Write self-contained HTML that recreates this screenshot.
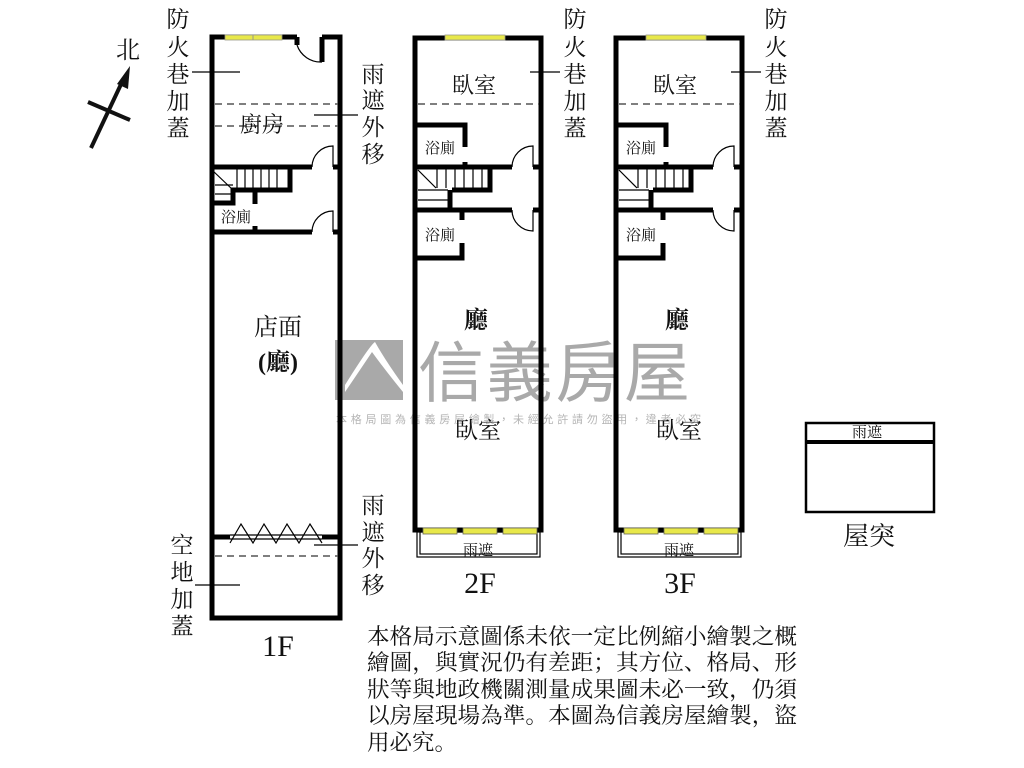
<!DOCTYPE html>
<html><head><meta charset="utf-8"><style>
body{margin:0;background:#fff}
svg{display:block}
text{font-family:"Liberation Serif","Noto Serif CJK SC",serif;fill:#111}
</style></head><body>
<svg width="1024" height="768" viewBox="0 0 1024 768" xmlns="http://www.w3.org/2000/svg">
<!-- watermark -->
<g fill="#a9a9a9">
<rect x="335" y="340" width="68" height="60"/>
<path d="M345 385 Q370 345 375 342 Q385 360 403 385 L403 392 Q385 370 372 352 Q360 370 345 392Z" fill="#fff"/>
<text x="418" y="396" font-size="66" style="font-family:'Noto Sans CJK TC',sans-serif;fill:#a9a9a9" textLength="272">信義房屋</text>
<text x="336" y="423" font-size="11" style="font-family:'Noto Sans CJK TC',sans-serif;fill:#b5b5b5" textLength="365">本格局圖為信義房屋繪製，未經允許請勿盜用，違者必究</text>
</g>
<!-- north arrow -->
<g stroke="#111" stroke-width="4" fill="none">
<line x1="91" y1="148" x2="123" y2="80"/>
<line x1="88" y1="102" x2="130" y2="120"/>
</g>
<polygon points="130,66 117,84 128,89" fill="#111"/>
<text x="128" y="58" font-size="24" text-anchor="middle">北</text>

<!-- 1F -->
<g fill="none" stroke="#000" stroke-width="5">
<polyline points="297,37 212,37 212,618 340,618 340,37 322,37"/>
<line x1="297" y1="37" x2="297" y2="45"/><line x1="322" y1="37" x2="322" y2="62"/>
<polyline points="212,167 312,167"/><line x1="333" y1="167" x2="340" y2="167"/>
<polyline points="212,232 312,232"/><line x1="333" y1="232" x2="340" y2="232"/>
<polyline points="290,167 290,190 233,190 233,203 212,203"/>
<line x1="255" y1="190" x2="255" y2="204"/><line x1="255" y1="226" x2="255" y2="232"/>
<line x1="212" y1="537" x2="230" y2="537"/><line x1="322" y1="537" x2="340" y2="537"/>
</g>
<g stroke="#000" stroke-width="1.2" fill="none">
<path d="M297 45 A25 25 0 0 0 322 62"/>
<path d="M312 167 A21 21 0 0 1 333 146 L333 167"/>
<path d="M312 232 A21 21 0 0 1 333 211 L333 232"/>
<line x1="212" y1="170" x2="233" y2="190"/>
<line x1="215" y1="185" x2="233" y2="185"/>
<line x1="215" y1="194" x2="233" y2="194"/>
<line x1="237" y1="169" x2="237" y2="188"/><line x1="245" y1="169" x2="245" y2="188"/><line x1="253" y1="169" x2="253" y2="188"/><line x1="261" y1="169" x2="261" y2="188"/><line x1="269" y1="169" x2="269" y2="188"/><line x1="277" y1="169" x2="277" y2="188"/>
<line x1="230" y1="535" x2="322" y2="535"/><line x1="230" y1="539" x2="322" y2="539"/>
<polyline points="230,543 241,524 253,543 264,524 276,543 287,524 299,543 310,524 322,543"/>
<line x1="192" y1="72" x2="240" y2="72"/>
<line x1="314" y1="115" x2="358" y2="115"/>
<line x1="314" y1="545" x2="358" y2="545"/>
<line x1="195" y1="585" x2="240" y2="585"/>
</g>
<g stroke="#555" stroke-width="1.5" stroke-dasharray="7,5">
<line x1="215" y1="104" x2="338" y2="104"/><line x1="215" y1="126" x2="338" y2="126"/>
<line x1="215" y1="556" x2="338" y2="556"/>
</g>
<rect x="225" y="35" width="57" height="5" fill="#e8e84a" stroke="#998" stroke-width="0.8"/>
<line x1="253" y1="35" x2="253" y2="40" stroke="#998"/>
<text x="262" y="132" font-size="22" text-anchor="middle">廚房</text>
<text x="236" y="222" font-size="15" text-anchor="middle">浴廁</text>
<text x="278" y="335" font-size="24" text-anchor="middle">店面</text>
<text x="278" y="370" font-size="24" text-anchor="middle" font-weight="bold">(廳)</text>
<text x="278" y="656" font-size="30" text-anchor="middle">1F</text>
<g font-size="23" text-anchor="middle">
<text x="178" y="27">防</text><text x="178" y="55">火</text><text x="178" y="82">巷</text><text x="178" y="109">加</text><text x="178" y="136">蓋</text>
<text x="373" y="82">雨</text><text x="373" y="108">遮</text><text x="373" y="135">外</text><text x="373" y="162">移</text>
<text x="373" y="513">雨</text><text x="373" y="540">遮</text><text x="373" y="566">外</text><text x="373" y="593">移</text>
<text x="182" y="553">空</text><text x="182" y="580">地</text><text x="182" y="607">加</text><text x="182" y="634">蓋</text>
<text x="575" y="27">防</text><text x="575" y="55">火</text><text x="575" y="82">巷</text><text x="575" y="109">加</text><text x="575" y="136">蓋</text>
<text x="776" y="27">防</text><text x="776" y="55">火</text><text x="776" y="82">巷</text><text x="776" y="109">加</text><text x="776" y="136">蓋</text>
</g>

<!-- 2F & 3F -->
<g id="fl">
<g fill="none" stroke="#000" stroke-width="5">
<rect x="415" y="38" width="126" height="492"/>
<polyline points="413,125 465,125 465,147"/><line x1="465" y1="162" x2="465" y2="167"/>
<line x1="413" y1="167" x2="512" y2="167"/><line x1="533" y1="167" x2="542" y2="167"/>
<polyline points="490,167 490,190 452,190"/>
<polyline points="450,190 450,210"/>
<line x1="413" y1="210" x2="512" y2="210"/><line x1="533" y1="210" x2="542" y2="210"/>
<polyline points="462,210 462,220"/><polyline points="462,243 462,258 413,258"/>
</g>
<g stroke="#000" stroke-width="1.2" fill="none">
<path d="M512 167 A21 21 0 0 1 533 146 L533 167"/>
<path d="M512 210 A21 21 0 0 0 533 231 L533 210"/>
<line x1="418" y1="170" x2="436" y2="188"/>
<line x1="418" y1="190" x2="448" y2="190"/><line x1="418" y1="200" x2="448" y2="200"/>
<line x1="437" y1="169" x2="437" y2="188"/><line x1="446" y1="169" x2="446" y2="188"/><line x1="455" y1="169" x2="455" y2="188"/><line x1="464" y1="169" x2="464" y2="188"/><line x1="473" y1="169" x2="473" y2="188"/><line x1="482" y1="169" x2="482" y2="188"/>
<rect x="417" y="532" width="123" height="25"/><rect x="420" y="532" width="117" height="22"/>
<line x1="530" y1="72" x2="560" y2="72"/>
</g>
<line x1="418" y1="104" x2="539" y2="104" stroke="#555" stroke-width="1.5" stroke-dasharray="7,5"/>
<rect x="445" y="35" width="60" height="5" fill="#e8e84a" stroke="#998" stroke-width="0.8"/>
<g fill="#e8e84a" stroke="#665" stroke-width="0.8">
<rect x="423" y="528" width="34" height="6"/><rect x="463" y="528" width="34" height="6"/><rect x="503" y="528" width="34" height="6"/>
</g>
<text x="474" y="93" font-size="22" text-anchor="middle">臥室</text>
<text x="440" y="153" font-size="15" text-anchor="middle">浴廁</text>
<text x="440" y="240" font-size="15" text-anchor="middle">浴廁</text>
<text x="476" y="328" font-size="24" text-anchor="middle" font-weight="bold">廳</text>
<text x="478" y="438" font-size="23" text-anchor="middle">臥室</text>
<text x="478" y="555" font-size="15" text-anchor="middle">雨遮</text>
</g>
<use href="#fl" x="201"/>
<text x="480" y="593" font-size="30" text-anchor="middle">2F</text>
<text x="680" y="593" font-size="30" text-anchor="middle">3F</text>

<!-- 屋突 -->
<rect x="806" y="423" width="128" height="89" fill="none" stroke="#000" stroke-width="2.5"/>
<line x1="806" y1="442" x2="934" y2="442" stroke="#000" stroke-width="4"/>
<text x="867" y="437" font-size="15" text-anchor="middle">雨遮</text>
<text x="869" y="545" font-size="26" text-anchor="middle">屋突</text>

<g font-size="22">
<text x="367" y="644" textLength="430" lengthAdjust="spacingAndGlyphs">本格局示意圖係未依一定比例縮小繪製之概</text>
<text x="367" y="670" textLength="430" lengthAdjust="spacingAndGlyphs">繪圖，與實況仍有差距；其方位、格局、形</text>
<text x="367" y="697" textLength="430" lengthAdjust="spacingAndGlyphs">狀等與地政機關測量成果圖未必一致，仍須</text>
<text x="367" y="723" textLength="430" lengthAdjust="spacingAndGlyphs">以房屋現場為準。本圖為信義房屋繪製，盜</text>
<text x="367" y="750" textLength="90" lengthAdjust="spacingAndGlyphs">用必究。</text>
</g>
</svg>
</body></html>
